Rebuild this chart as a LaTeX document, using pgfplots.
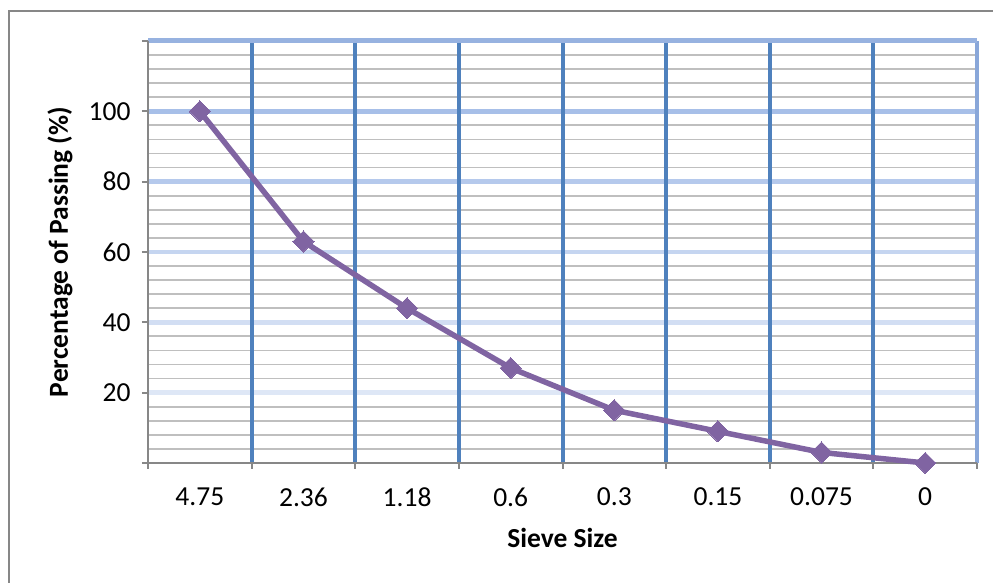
\documentclass[border=0pt]{standalone}
\usepackage{fontspec}
\setmainfont{Carlito}
\usepackage{pgfplots}
\pgfplotsset{compat=1.18}
\definecolor{gblue}{HTML}{4F81BD}
\definecolor{redge}{HTML}{89A7D9}
\definecolor{ctop}{HTML}{97B2E0}
\definecolor{cA}{HTML}{A7BFE8}
\definecolor{cB}{HTML}{B5C9EC}
\definecolor{cC}{HTML}{C5D5F0}
\definecolor{cD}{HTML}{D2DEF3}
\definecolor{cE}{HTML}{DEE7F6}
\definecolor{mgray}{HTML}{BFBFBF}
\definecolor{agray}{HTML}{878787}
\definecolor{lpurple}{HTML}{8064A2}
\pgfplotsset{
  gridbase/.style={
    at={(148pt,120pt)}, anchor=south west,
    scale only axis, width=829pt, height=422pt,
    xmin=-0.5, xmax=7.5, ymin=0, ymax=120,
    axis line style={draw=none},
    major tick length=0pt, minor tick length=0pt,
    tick label style={opacity=0},
    xtick=\empty, ytick=\empty,
  },
}
\begin{document}
\begin{tikzpicture}
\useasboundingbox (0pt,0pt) rectangle (993pt,583pt);
\draw[agray, line width=2pt] (9pt,0pt) -- (9pt,572pt) -- (993pt,572pt);
% layer 1: minor grids and upper major lines
\begin{axis}[gridbase,
  minor xtick={0,...,7}, minor ytick={4,8,...,116},
  xminorgrids, yminorgrids,
  minor grid style={mgray, line width=1.8pt},
  ytick={100}, yticklabels={}, ymajorgrids, major grid style={cA, line width=4.5pt},
  extra y ticks={80}, extra y tick labels={}, extra y tick style={grid=major, major grid style={cB, line width=4.5pt}},
]
\end{axis}
\begin{axis}[gridbase,
  ytick={60}, yticklabels={}, ymajorgrids, major grid style={cC, line width=4.5pt},
  extra y ticks={40}, extra y tick labels={}, extra y tick style={grid=major, major grid style={cD, line width=4.5pt}},
]
\end{axis}
\begin{axis}[gridbase,
  ytick={20}, yticklabels={}, ymajorgrids, major grid style={cE, line width=4.5pt},
  extra x ticks={7.5}, extra x tick labels={}, extra x tick style={grid=major, major grid style={redge, line width=4.5pt}},
]
\end{axis}
\begin{axis}[gridbase,
  xtick={0.5,1.5,...,6.5}, xticklabels={}, xmajorgrids,
  major grid style={gblue, line width=4pt},
  extra y ticks={120}, extra y tick labels={}, extra y tick style={grid=major, major grid style={ctop, line width=5pt}},
]
\end{axis}
% data axis
\begin{axis}[
  at={(148pt,120pt)}, anchor=south west,
  scale only axis, width=829pt, height=422pt,
  xmin=-0.5, xmax=7.5, ymin=0, ymax=120,
  axis x line*=bottom, axis y line*=left,
  axis line style={-, agray, line width=2pt},
  tick align=outside,
  xtick={-0.5,0.5,...,7.5}, xticklabels={,,,,,,,,,},
  x tick style={agray, line width=2pt},
  x tick label style={font=\fontsize{27.5}{32}\selectfont},
  major tick length=6pt,
  extra x ticks={0,1,2,3,4,5,6,7},
  extra x tick labels={4.75,2.36,1.18,0.6,0.3,0.15,0.075,0},
  extra x tick style={major tick length=0pt, grid=none,
     xticklabel style={anchor=north, yshift=-21pt}},
  ytick={0,20,...,120}, yticklabels={,20,40,60,80,100,},
  y tick style={agray, line width=2pt},
  yticklabel style={font=\fontsize{27.5}{32}\selectfont, anchor=east, xshift=-8pt},
  /pgf/number format/assume math mode=true,
  xlabel={\bfseries Sieve Size},
  ylabel={\bfseries Percentage of Passing (\%)},
  xlabel style={font=\fontsize{27.5}{32}\selectfont, at={(axis description cs:0.5,-0.2014)}, anchor=base},
  ylabel style={font=\fontsize{27.5}{32}\selectfont, at={(axis description cs:-0.106,0.5)}, anchor=center},
  clip=false,
]
\addplot[lpurple, line width=5.5pt, mark=square*, mark size=7.5pt,
  mark options={rotate=45, fill=lpurple, draw=lpurple, line width=0pt}]
  coordinates {(0,100) (1,63) (2,44) (3,27) (4,15) (5,9) (6,3) (7,0)};
\end{axis}
\end{tikzpicture}
\end{document}
